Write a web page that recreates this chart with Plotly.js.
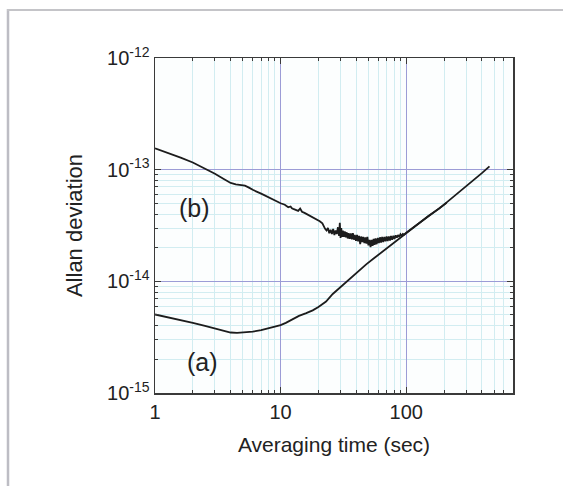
<!DOCTYPE html>
<html>
<head>
<meta charset="utf-8">
<script src="https://cdn.plot.ly/plotly-3.0.1.min.js"></script>
<style>html,body{margin:0;padding:0;background:#fff;}#chart{width:563px;height:486px;}</style>
</head>
<body>
<div id="chart"></div>
<script>
// Curve (a)
const tauA = [1, 1.5, 2, 2.5, 3, 3.5, 4, 4.5, 5, 6, 7, 8, 9, 10, 11, 12, 13, 14, 16, 18, 20, 23, 26, 30, 35, 40, 48, 55, 65, 75, 85, 100, 120, 150, 184, 220, 270, 340, 400, 460];
const adevA = [5.05e-15, 4.6e-15, 4.25e-15, 4.0e-15, 3.78e-15, 3.6e-15, 3.48e-15, 3.45e-15, 3.47e-15, 3.55e-15, 3.65e-15, 3.78e-15, 3.92e-15, 4.05e-15, 4.25e-15, 4.5e-15, 4.7e-15, 4.9e-15, 5.2e-15, 5.5e-15, 5.9e-15, 6.6e-15, 7.7e-15, 8.9e-15, 1.05e-14, 1.2e-14, 1.42e-14, 1.6e-14, 1.85e-14, 2.1e-14, 2.35e-14, 2.7e-14, 3.2e-14, 3.85e-14, 4.5e-14, 5.3e-14, 6.4e-14, 8.0e-14, 9.3e-14, 1.07e-13];

// Curve (b): averaging time (s)
const tauB = [1, 1.3, 1.6, 2, 2.5, 3, 3.5, 4, 4.4, 4.8, 5.2, 5.6, 6, 7, 8, 9, 10, 10.8, 11.5, 12, 12.3, 12.6, 13.2, 13.8, 14.3, 14.8, 15.5, 16.5, 17.5, 18.5, 19.5, 20.5, 21.5, 22, 22.6,
  23.2, 23.8, 24.4, 25, 25.6, 26.2, 26.8, 27.4, 28, 28.6, 29.2, 29.6, 30, 30.4, 30.8, 31.3, 31.8, 32.4, 33, 33.6, 34.2, 34.8, 35.5, 36.2, 36.9, 37.6, 38.3, 39, 39.8, 40.6, 41.4, 42.2, 43, 43.8, 44.6, 45.5, 46.4, 47.3, 48.2, 49.1, 50, 51, 52, 53, 54, 55, 56, 57, 58.2, 59.4, 60.6, 61.8, 63, 64.3, 65.6, 67, 68.4, 69.8, 71.2, 72.7, 74.2, 75.7, 77.3, 79, 80.7, 82.4, 84.2, 86, 88, 90, 92, 94, 96, 98,
  100, 105, 110, 115, 120, 130, 140, 150, 160, 170, 180, 190, 200, 210];
// Curve (b): Allan deviation (units of 1e-14)
const adevB14 = [15.5, 14.0, 12.8, 11.6, 10.3, 9.2, 8.3, 7.6, 7.4, 7.35, 7.2, 6.9, 6.6, 6.1, 5.65, 5.3, 5.0, 4.85, 4.6, 4.68, 4.5, 4.45, 4.38, 4.28, 4.48, 4.2, 4.1, 3.95, 3.85, 3.7, 3.55, 3.45, 3.3, 3.1, 2.95,
  2.85, 3.0, 2.7, 2.9, 2.65, 2.95, 2.6, 2.85, 2.65, 3.05, 2.55, 3.35, 2.45, 3.0, 2.5, 2.85, 2.5, 2.8, 2.48, 2.75, 2.42, 2.7, 2.4, 2.68, 2.38, 2.7, 2.36, 2.6, 2.3, 2.6, 2.28, 2.55, 2.15, 2.52, 2.25, 2.5, 2.2, 2.48, 2.18, 2.5, 2.1, 2.35, 2.02, 2.35, 2.08, 2.4, 2.12, 2.42, 2.15, 2.45, 2.2, 2.48, 2.22, 2.5, 2.25, 2.5, 2.28, 2.52, 2.3, 2.52, 2.32, 2.55, 2.36, 2.56, 2.4, 2.58, 2.46, 2.6, 2.5, 2.64, 2.56, 2.66, 2.62, 2.7,
  2.72, 2.84, 2.95, 3.08, 3.2, 3.38, 3.6, 3.82, 4.05, 4.22, 4.45, 4.62, 4.85, 5.05];
const adevB = adevB14.map(v => v * 1e-14);

const xTickVals = [1, 10, 100];
const xTickText = ['1', '10', '100'];
const yTickVals = [1e-15, 1e-14, 1e-13, 1e-12];
const yTickText = ['10<sup>-15</sup>', '10<sup>-14</sup>', '10<sup>-13</sup>', '10<sup>-12</sup>'];
const curveLabels = ['(a)', '(b)'];
const labelPos = [[2.37, 1.9e-15], [2.05, 4.5e-14]];

function minorVals(lo, hi) {
  const v = [];
  for (let d = lo; d <= hi; d *= 10) for (let k = 2; k <= 9; k++) v.push(k * d);
  return v;
}

const FONT = 'Liberation Sans, Arial, Helvetica, sans-serif';
const LINE = {color: '#1c1c1c', width: 1.8};

const traces = [
  {x: tauA, y: adevA, type: 'scatter', mode: 'lines', line: LINE, name: '(a)', showlegend: false},
  {x: tauB, y: adevB, type: 'scatter', mode: 'lines', line: LINE, name: '(b)', showlegend: false}
];

const axisCommon = {
  type: 'log',
  showline: true, linecolor: '#3a3a3a', linewidth: 1.5, mirror: 'allticks',
  ticks: 'inside', ticklen: 6, tickcolor: '#3a3a3a', tickwidth: 1,
  showgrid: true, gridcolor: '#9c9cd6', gridwidth: 1,
  zeroline: false,
  tickfont: {family: FONT, size: 20, color: '#222'},
  tickmode: 'array'
};

const bx = (px) => (px - 155) / 358;
const by = (py) => (393 - py) / 335;

const layout = {
  width: 563, height: 486,
  margin: {l: 155, r: 50, t: 58, b: 93},
  paper_bgcolor: '#ffffff', plot_bgcolor: '#fcfefe',
  font: {family: FONT, color: '#222'},
  xaxis: Object.assign({}, axisCommon, {
    range: [0, 2.85],
    tickvals: xTickVals, ticktext: xTickText,
    minor: {tickmode: 'array', tickvals: minorVals(1, 100), ticks: 'inside', ticklen: 3, tickcolor: '#3a3a3a', showgrid: true, gridcolor: '#d2edf1', gridwidth: 1},
    title: {text: 'Averaging time (sec)', font: {family: FONT, size: 21, color: '#222'}, standoff: 16}
  }),
  yaxis: Object.assign({}, axisCommon, {
    range: [-15, -12],
    tickvals: yTickVals, ticktext: yTickText,
    minor: {tickmode: 'array', tickvals: minorVals(1e-15, 1e-13), ticks: 'inside', ticklen: 3, tickcolor: '#3a3a3a', showgrid: true, gridcolor: '#d2edf1', gridwidth: 1},
    title: {text: 'Allan deviation', font: {family: FONT, size: 22, color: '#222'}, standoff: 18}
  }),
  annotations: curveLabels.map((t, i) => ({
    text: t, xref: 'x', yref: 'y',
    x: Math.log10(labelPos[i][0]), y: Math.log10(labelPos[i][1]),
    showarrow: false, font: {family: FONT, size: 25, color: '#222'}
  })),
  shapes: [
    {type: 'line', xref: 'paper', yref: 'paper', x0: bx(8), x1: bx(8), y0: by(9), y1: by(490), line: {color: '#bdbdc4', width: 2.5}},
    {type: 'line', xref: 'paper', yref: 'paper', x0: bx(7), x1: bx(570), y0: by(10), y1: by(10), line: {color: '#c4c4c8', width: 2}}
  ]
};

Plotly.newPlot('chart', traces, layout, {staticPlot: true, displayModeBar: false});
</script>
</body>
</html>
